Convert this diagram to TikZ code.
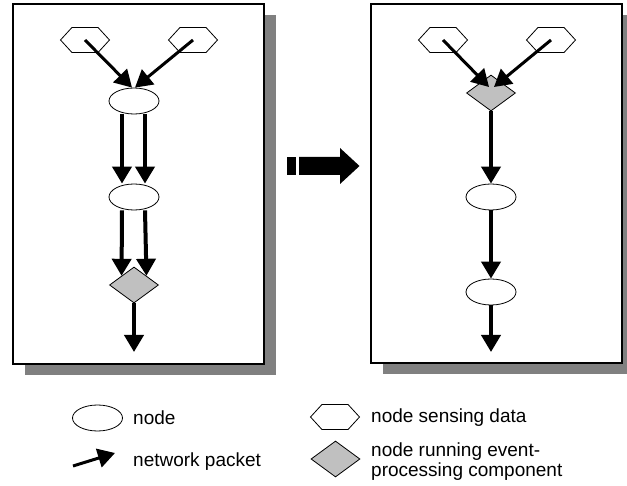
\documentclass[tikz,border=0pt]{standalone}
\usepackage{fontspec}
\setmainfont{Liberation Sans}
\usetikzlibrary{shapes.geometric,shapes.symbols,arrows.meta,calc}
\definecolor{procgray}{HTML}{C0C0C0}
\definecolor{shadowgray}{HTML}{808080}
\begin{document}
\begin{tikzpicture}[x=1pt,y=-1pt,
  panel/.style={draw=black,line width=1.5pt,fill=white},
  shadowbox/.style={fill=shadowgray,draw=none},
  plainnode/.style={ellipse,draw,line width=0.8pt,fill=white,minimum width=50pt,minimum height=26pt,inner sep=0pt},
  sensenode/.style={signal,signal to=east and west,signal pointer angle=95,draw,line width=0.8pt,fill=white,minimum width=49pt,minimum height=25pt,inner sep=0pt},
  procnode/.style={diamond,draw,line width=0.8pt,fill=procgray,minimum width=49pt,minimum height=36pt,inner sep=0pt,aspect=1.36},
  packet/.style={line width=4pt,-{Triangle[length=17pt,width=19pt]}},
  thinpacket/.style={line width=3pt,-{Triangle[length=17pt,width=19pt]}},
  legendtext/.style={font=\fontsize{19}{20}\selectfont,anchor=west,inner sep=0pt,align=left}
]
\useasboundingbox (0,0) rectangle (627,486);
% panels with shadows
\fill[shadowgray] (25,15) rectangle (276,375);
\draw[panel] (13,4) rectangle (264,364);
\fill[shadowgray] (383,15) rectangle (634,374);
\draw[panel] (371,4) rectangle (622,363);
% left diagram
\node[sensenode] (lh1) at (85,40) {};
\node[sensenode] (lh2) at (193,40) {};
\node[plainnode] (le1) at (134,101) {};
\node[plainnode] (le2) at (134,197) {};
\node[procnode] (ld) at (134,285) {};
\coordinate (lout) at (134,352);
\draw[thinpacket] (lh1.center) -- ([xshift=-2pt]le1.north);
\draw[thinpacket] (lh2.center) -- ([xshift=1pt]le1.north);
\draw[packet] ([xshift=-12pt]le1.south) -- ([xshift=-12pt]le2.north);
\draw[packet] ([xshift=11pt]le1.south) -- ([xshift=11pt]le2.north);
\draw[packet] ([xshift=-12pt]le2.south) -- (ld.north west);
\draw[packet] ([xshift=11pt]le2.south) -- (ld.north east);
\draw[packet] (ld.south) -- (lout);
% transform arrow
\fill (287,157) rectangle (296,175);
\fill (299,157) -- (340,157) -- (340,148) -- (359.5,166) -- (340,184) -- (340,175) -- (299,175) -- cycle;
% right diagram
\node[sensenode] (rh1) at (443,40) {};
\node[sensenode] (rh2) at (551,40) {};
\node[procnode] (rd) at (491,93) {};
\node[plainnode] (re1) at (491,197) {};
\node[plainnode] (re2) at (491,292) {};
\coordinate (rout) at (491,352);
\draw[thinpacket] (rh1.center) -- ($(rd.center)+(-2,-6)$);
\draw[thinpacket] (rh2.center) -- ($(rd.center)+(3,-6)$);
\draw[packet] (rd.south) -- (re1.north);
\draw[packet] (re1.south) -- (re2.north);
\draw[packet] (re2.south) -- (rout);
% legend
\node[plainnode] (lgE) at (97.5,418) {};
\node[legendtext] (lgEt) at (133,418) {node};
\coordinate (lgA1) at (73,466);
\coordinate (lgA2) at (115,453);
\draw[thinpacket] (lgA1) -- (lgA2);
\node[legendtext] (lgAt) at (133,462) {network packet};
\node[sensenode] (lgH) at (335,417) {};
\node[legendtext] (lgHt) at (371,418) {node sensing data};
\node[procnode] (lgD) at (335.5,459) {};
\node[legendtext] (lgDt) at (371,462) {node running event-\\processing component};
\end{tikzpicture}
\end{document}
